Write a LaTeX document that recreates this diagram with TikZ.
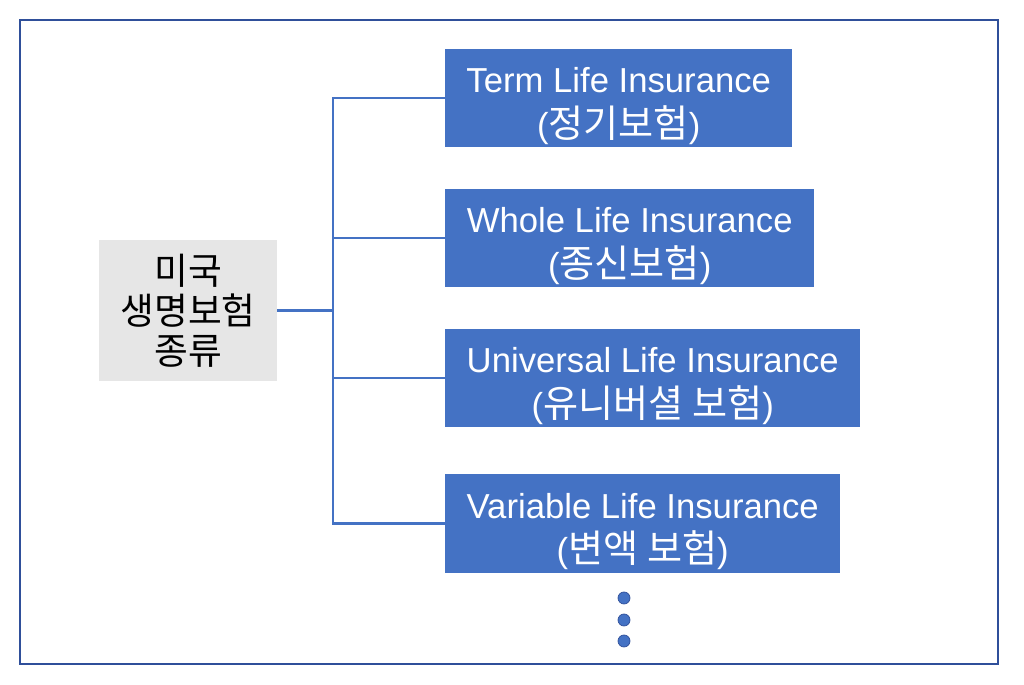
\documentclass[tikz,border=0pt]{standalone}
\usepackage{fontspec}
\setmainfont{Liberation Sans}
\newfontfamily\kr[Scale=1.1]{Noto Sans CJK KR}
\usepackage{tikz}
\usetikzlibrary{positioning}

\definecolor{accblue}{HTML}{4472C4}
\definecolor{frameblue}{HTML}{2F4F9A}
\definecolor{rootgray}{HTML}{E6E6E6}

% pushes the two lines of a box down a little
\newcommand{\boxstrut}{\rule{0pt}{35pt}}

\tikzset{
  typebox/.style={fill=accblue, text=white, align=center, anchor=west,
    minimum height=2.94cm, inner sep=0pt,
    font=\fontsize{29.6}{38}\selectfont},
  rootbox/.style={fill=rootgray, align=center, minimum width=5.34cm,
    minimum height=4.23cm, inner sep=0pt,
    font=\kr\fontsize{28.5}{34}\selectfont},
  branch/.style={draw=accblue, line width=1.9pt}
}

\begin{document}
\begin{tikzpicture}[x=0.03cm,y=-0.03cm]
  \useasboundingbox (0,0) rectangle (1024,685);
  \draw[frameblue, line width=1.5pt] (20,20) rectangle (998,664);

  \node[rootbox] (root) at (188,310.5) {미국\\생명보험\\종류};

  \node[typebox, minimum width=10.41cm] (term) at (445,98)
    {\boxstrut Term Life Insurance\\({\kr 정기보험})};
  \node[typebox, minimum width=11.07cm] (whole) at (445,238)
    {\boxstrut Whole Life Insurance\\({\kr 종신보험})};
  \node[typebox, minimum width=12.45cm] (universal) at (445,378)
    {\boxstrut Universal Life Insurance\\({\kr 유니버셜 보험})};
  \node[typebox, minimum width=11.85cm] (variable) at (445,523.5)
    {\boxstrut Variable Life Insurance\\({\kr 변액 보험})};

  % trunk of the tree
  \coordinate (trunk) at (333,310.5);
  \draw[branch] (root.east) -- (trunk);
  \foreach \leaf in {term,whole,universal,variable}
    \draw[branch] (\leaf.west) -| (trunk);

  % more kinds follow
  \foreach \y in {598,620,641}
    \filldraw[fill=accblue, draw=frameblue, line width=0.6pt] (624,\y) circle [radius=0.18cm];
\end{tikzpicture}
\end{document}
